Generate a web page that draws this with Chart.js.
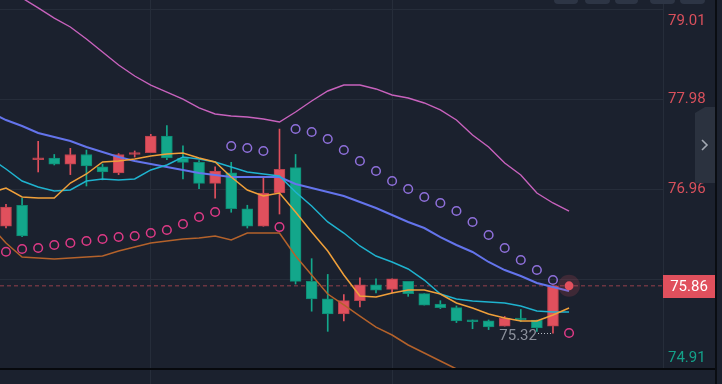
<!DOCTYPE html>
<html>
<head>
<meta charset="utf-8">
<script src="https://cdn.jsdelivr.net/npm/chart.js@4.4.1/dist/chart.umd.min.js"></script>
<style>
  body { margin: 0; background: #1b212e; }
  #wrap { position: relative; width: 722px; height: 384px; overflow: hidden; background: #1b212e; }
  #myChart { position: absolute; left: 0; top: 0; }
  .chip { position: absolute; top: -6px; height: 10px; background: #2d3545; border-radius: 4px; }
  #baseLine { position: absolute; left: 0; top: 368px; width: 716px; height: 2px; background: #07090d; }
  #edge { position: absolute; left: 715px; top: 0; width: 2px; height: 384px; background: #0a0d12; }
  #tab { position: absolute; left: 0; top: 0; }
</style>
</head>
<body>
<div id="wrap">
  <canvas id="myChart" width="722" height="384"></canvas>
  <div class="chip" style="left:554px;width:24px"></div>
  <div class="chip" style="left:585px;width:25px"></div>
  <div class="chip" style="left:615px;width:23px"></div>
  <div class="chip" style="left:650px;width:25px"></div>
  <div class="chip" style="left:680px;width:25px"></div>
  <div id="baseLine"></div>
  <div id="edge"></div>
  <svg id="tab" width="722" height="384">
    <polygon points="695,113 705,107 715,107 715,183 695,183" fill="#2b323f"/>
    <polyline points="702,140 707,145 702,150" fill="none" stroke="#a3a9b3" stroke-width="1.6"/>
  </svg>
</div>

<script>
// candles
let opens  = [76.54, 76.78, 77.30, 77.32, 77.25, 77.36, 77.22, 77.15, 77.36, 77.38, 77.57, 77.32, 77.27, 77.03, 77.15, 76.74, 76.54, 76.92, 77.21, 75.91, 75.71, 75.54, 75.69, 75.87, 75.82, 75.91, 75.77, 75.65, 75.61, 75.46, 75.46, 75.40, 75.48, 75.47, 75.40];
let highs  = [76.79, 76.86, 77.51, 77.36, 77.43, 77.41, 77.25, 77.37, 77.40, 77.59, 77.69, 77.46, 77.29, 77.22, 77.27, 76.78, 77.09, 77.65, 77.36, 76.17, 75.99, 75.76, 75.95, 75.94, 75.94, 75.91, 75.77, 75.69, 75.63, 75.47, 75.47, 75.51, 75.59, 75.47, 75.86];
let lows   = [76.52, 76.42, 77.16, 77.24, 77.13, 77.00, 77.07, 77.13, 77.33, 77.38, 77.30, 77.08, 76.97, 76.86, 76.70, 76.52, 76.54, 76.68, 75.88, 75.57, 75.34, 75.46, 75.62, 75.78, 75.78, 75.74, 75.64, 75.60, 75.44, 75.37, 75.36, 75.40, 75.45, 75.34, 75.32];
let closes = [76.76, 76.43, 77.32, 77.25, 77.36, 77.23, 77.16, 77.36, 77.38, 77.57, 77.32, 77.27, 77.03, 77.17, 76.74, 76.54, 76.92, 77.19, 75.91, 75.71, 75.54, 75.69, 75.87, 75.81, 75.94, 75.77, 75.64, 75.61, 75.46, 75.45, 75.39, 75.49, 75.47, 75.38, 75.86];

// indicator lines, first value is one bar left of the first candle
let upperBand = [79.375, 79.261, 79.147, 79.033, 78.918, 78.816, 78.679, 78.530, 78.382, 78.256, 78.153, 78.073, 77.993, 77.891, 77.822, 77.799, 77.788, 77.765, 77.731, 77.845, 77.971, 78.085, 78.153, 78.153, 78.108, 78.039, 78.005, 77.948, 77.868, 77.754, 77.582, 77.445, 77.262, 77.125, 76.920, 76.806, 76.714];
let slowMA = [77.845, 77.753, 77.685, 77.605, 77.559, 77.514, 77.445, 77.388, 77.331, 77.285, 77.251, 77.217, 77.183, 77.148, 77.125, 77.103, 77.103, 77.103, 77.103, 77.023, 76.977, 76.931, 76.886, 76.817, 76.749, 76.669, 76.589, 76.520, 76.417, 76.326, 76.246, 76.132, 76.040, 75.972, 75.892, 75.846, 75.801];
let midMA = [77.320, 77.194, 77.057, 76.988, 76.943, 76.954, 77.057, 77.080, 77.068, 77.080, 77.183, 77.240, 77.331, 77.308, 77.274, 77.217, 77.160, 77.137, 77.114, 76.931, 76.771, 76.589, 76.463, 76.315, 76.200, 76.132, 76.052, 75.926, 75.766, 75.709, 75.686, 75.675, 75.664, 75.629, 75.572, 75.561, 75.561];
let fastMA = [76.920, 76.977, 76.874, 76.863, 76.863, 77.034, 77.137, 77.274, 77.285, 77.308, 77.342, 77.365, 77.377, 77.320, 77.274, 77.103, 76.954, 76.886, 76.920, 76.703, 76.474, 76.257, 75.983, 75.744, 75.732, 75.778, 75.812, 75.812, 75.766, 75.664, 75.606, 75.538, 75.492, 75.458, 75.458, 75.527, 75.606];
let lowerBand = [76.554, 76.349, 76.189, 76.177, 76.166, 76.177, 76.189, 76.200, 76.257, 76.303, 76.349, 76.372, 76.394, 76.406, 76.429, 76.383, 76.463, 76.463, 76.463, 76.200, 75.983, 75.766, 75.641, 75.515, 75.389, 75.298, 75.184, 75.093, 75.001, 74.910, 74.807, 74.716];

// parabolic sar dots, one per bar plus the live bar
let sarValues = [76.249, 76.280, 76.292, 76.326, 76.349, 76.372, 76.394, 76.417, 76.429, 76.463, 76.497, 76.566, 76.646, 76.703, 77.457, 77.434, 77.400, 76.531, 77.651, 77.617, 77.537, 77.411, 77.285, 77.171, 77.057, 76.966, 76.874, 76.806, 76.714, 76.589, 76.440, 76.292, 76.155, 76.040, 75.926, 75.321];

let lastPrice = 75.86;
let yTicks = [74.91, 75.935, 76.96, 77.985, 79.01];
let yTickLabels = ['74.91', '', '76.96', '77.98', '79.01'];
let xGridAt = [9, 24];

// look
const upColor = '#e0505d';
const upEdge = '#b9414d';
const downColor = '#13a78b';
const downEdge = '#0e8a73';
const gridColor = '#262d3a';
const fontFamily = 'Roboto, "Open Sans", sans-serif';
const xMin = -0.373;
const xMax = 40.84;
const yMax = 79.124;

function isUp(i) {
  return closes[i] >= opens[i];
}

function toPoints(values, start) {
  return values.map((v, k) => ({ x: k + start, y: v }));
}

let liveIndex = closes.length;
let wickData = closes.map((c, i) => ({ x: i, y: [lows[i], highs[i]] }));
let bodyData = closes.map((c, i) => ({ x: i, y: [opens[i], closes[i]] }));

function lineSet(values, color, width, order) {
  return {
    type: 'line',
    data: toPoints(values, -1),
    borderColor: color,
    borderWidth: width,
    pointRadius: 0,
    tension: 0,
    order: order
  };
}

const markerPlugin = {
  id: 'markers',
  afterDraw(chart) {
    const ctx = chart.ctx;
    const area = chart.chartArea;
    const x = chart.scales.x;
    const y = chart.scales.y;
    ctx.save();
    // price tag on the axis
    const py = Math.round(y.getPixelForValue(lastPrice));
    ctx.fillStyle = upColor;
    ctx.fillRect(area.right, py - 11, 52, 23);
    ctx.fillStyle = '#ffffff';
    ctx.font = '15px ' + fontFamily;
    ctx.textAlign = 'center';
    ctx.textBaseline = 'middle';
    ctx.fillText(lastPrice.toFixed(2), area.right + 26, py + 1);
    // lowest low mark
    const lowMark = Math.min(...lows);
    const li = lows.indexOf(lowMark);
    const lx = x.getPixelForValue(li);
    const ly = Math.round(y.getPixelForValue(lowMark));
    ctx.fillStyle = '#b9bec7';
    for (let d = lx - 15; d < lx - 2; d += 3) {
      ctx.fillRect(Math.round(d), ly, 1, 1);
    }
    ctx.fillStyle = '#8b909b';
    ctx.textAlign = 'right';
    ctx.fillText(lowMark.toFixed(2), lx - 16, ly + 3);
    ctx.restore();
  }
};

let ctx = document.getElementById('myChart').getContext('2d');
let chart = new Chart(ctx, {
  type: 'bar',
  data: {
    datasets: [
      {
        type: 'line',
        data: [{ x: xMin, y: lastPrice }, { x: xMax, y: lastPrice }],
        borderColor: '#6c3541',
        borderWidth: 1.5,
        borderDash: [4, 3],
        pointRadius: 0,
        order: 12
      },
      {
        type: 'bar',
        data: wickData,
        backgroundColor: c => (isUp(c.dataIndex) ? upColor : downColor),
        borderWidth: 0,
        barThickness: 1,
        grouped: false,
        order: 11
      },
      {
        type: 'bar',
        data: bodyData,
        backgroundColor: c => (isUp(c.dataIndex) ? upColor : downColor),
        borderColor: c => (isUp(c.dataIndex) ? upEdge : downEdge),
        borderWidth: 1,
        borderSkipped: false,
        barThickness: 11,
        minBarLength: 2,
        grouped: false,
        order: 10
      },
      lineSet(lowerBand, '#b4622b', 1.5, 6),
      lineSet(upperBand, '#c862bd', 1.4, 5),
      lineSet(slowMA, '#6474ec', 2, 4),
      lineSet(midMA, '#1fb3cf', 1.5, 3),
      lineSet(fastMA, '#f0a03a', 1.5, 2),
      {
        type: 'line',
        showLine: false,
        data: toPoints(sarValues, 0),
        pointStyle: 'circle',
        pointRadius: 4.3,
        pointBorderWidth: 1.5,
        pointBackgroundColor: 'rgba(0,0,0,0)',
        pointBorderColor: c => {
          const ref = c.dataIndex < closes.length ? closes[c.dataIndex] : lastPrice;
          return sarValues[c.dataIndex] > ref ? '#8f70db' : '#de3a86';
        },
        order: 1
      },
      {
        type: 'line',
        showLine: false,
        data: [{ x: liveIndex, y: lastPrice }],
        pointRadius: 11,
        pointBorderWidth: 0,
        pointBackgroundColor: 'rgba(224,80,93,0.18)',
        order: 0
      },
      {
        type: 'line',
        showLine: false,
        data: [{ x: liveIndex, y: lastPrice }],
        pointRadius: 4.5,
        pointBorderWidth: 0,
        pointBackgroundColor: '#e4505e',
        order: -1
      }
    ]
  },
  options: {
    responsive: false,
    animation: false,
    events: [],
    devicePixelRatio: 1,
    layout: { padding: 0, autoPadding: false },
    plugins: {
      legend: { display: false },
      tooltip: { enabled: false }
    },
    scales: {
      x: {
        type: 'linear',
        min: xMin,
        max: xMax,
        offset: false,
        afterBuildTicks: s => { s.ticks = xGridAt.map(v => ({ value: v })); },
        afterFit: s => { s.paddingLeft = 0; s.paddingRight = 0; },
        grid: { color: gridColor, offset: false, drawTicks: true, tickLength: 15 },
        border: { display: false },
        ticks: { display: false }
      },
      y: {
        position: 'right',
        min: yTicks[0],
        max: yMax,
        afterBuildTicks: s => { s.ticks = yTicks.map(v => ({ value: v })); },
        afterFit: s => { s.width = 59; s.paddingTop = 0; s.paddingBottom = 0; },
        grid: { color: gridColor, drawTicks: false },
        border: { color: gridColor },
        ticks: {
          padding: 5,
          font: { family: fontFamily, size: 15, lineHeight: '22px' },
          color: c => (c.tick && c.tick.value >= lastPrice ? '#d9505c' : '#14a189'),
          callback: (v, i) => {
            const label = yTickLabels[i];
            if (i === 0) return [label, ''];
            if (i === yTicks.length - 1) return ['', label];
            return label;
          }
        }
      }
    }
  },
  plugins: [markerPlugin]
});
</script>
</body>
</html>
